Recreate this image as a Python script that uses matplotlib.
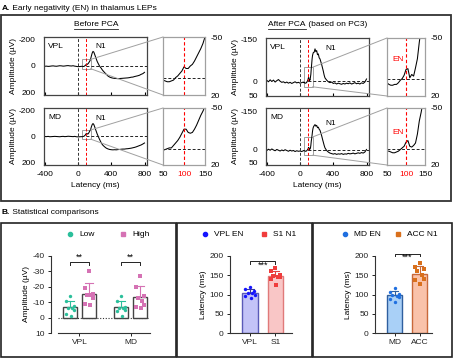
import numpy as np
import matplotlib.pyplot as plt
from matplotlib.patches import Rectangle, ConnectionPatch

plt.rcParams['font.family'] = ['Liberation Sans', 'DejaVu Sans']
plt.rcParams['font.size'] = 6
plt.rcParams['axes.unicode_minus'] = False

W, H = 453, 359

# ---- panel A data: LEP waveforms (uV) ----
lat = np.concatenate([np.arange(-400, 41, 20), np.arange(45, 161, 5),
                      np.arange(170, 301, 10), np.arange(320, 801, 20)])

vpl_before = [2, 1, 3, 2, 0, -1, 1, 2, 0, -2, -1, 1, 0, -2, -3, -1, 0, -2, 1, 3, 5, 4, 3,
              2, 2, 3, 4, 4, 3, 2, -1, -3, -6, -9, -14, -12, -12, -15, -17, -21, -26, -31, -36, -42, -50, -62, -75,
              -98, -111, -105, -88, -70, -52, -35, -22, -10, 2, 10, 18, 28, 36,
              50, 63, 76, 84, 89, 92, 94, 95, 96, 95, 94, 93, 92, 91, 90, 88, 85, 84, 80, 77, 74, 70, 63, 58, 48]
md_before = [0, 1, -1, 2, 1, 0, -1, 0, 1, 2, 0, -1, 1, 0, -2, -1, 0, 1, -1, 2, 3, 2, 1,
             1, 2, 1, 0, -1, -1, -4, -7, -10, -14, -19, -24, -24, -20, -19, -20, -24, -29, -35, -41, -46, -52, -62, -74,
             -92, -100, -92, -75, -56, -38, -20, -5, 10, 24, 37, 50, 60, 68,
             80, 90, 96, 100, 102, 103, 102, 103, 101, 100, 98, 97, 97, 95, 94, 92, 90, 87, 84, 80, 75, 70, 65, 58, 50]
vpl_after = [-3, 2, -5, 1, -4, 3, -2, -6, 0, 4, 2, 6, 3, 7, 4, 8, 5, 2, 6, 4, 7, 5, 3,
             5, 4, 6, 7, 7, 6, 6, 4, 1, -1, -5, -12, -13, -2, -6, -4, -14, -25, -45, -62, -80, -92, -98, -103,
             -104, -116, -106, -110, -95, -98, -84, -80, -70, -60, -48, -36, -22, -12,
             -4, 2, 5, 3, 8, 6, 10, 7, 9, 11, 8, 10, 7, 9, 6, 10, 8, 5, 9, 7, 10, 6, 8, 3, -8]
md_after = [2, -3, 1, -4, 0, 3, -2, 1, 4, 0, 3, -1, 2, 5, 1, 4, 2, 6, 3, 5, 4, 6, 3,
            2, 3, 3, 4, 5, 5, 4, 3, 1, -1, -3, -8, -10, -3, -2, -4, -7, -18, -34, -45, -58, -72, -82, -88,
            -94, -98, -92, -95, -86, -88, -80, -76, -66, -55, -42, -30, -18, -8,
            2, 8, 12, 14, 16, 14, 17, 15, 16, 14, 17, 15, 16, 13, 15, 14, 12, 15, 13, 11, 13, 10, 12, 8, -2]

# ---- panel B data ----
groups_amp = ['VPL', 'MD']
low_vpl = [-14, -11, -7.5, -6.5, -6, -5, -2.5, -1]
high_vpl = [-30, -19, -15.5, -15, -14.5, -12.5, -9, -8.5]
low_md = [-14, -11, -7, -6.5, -6, -5, -4, -1]
high_md = [-27, -20, -14, -12.5, -11, -8, -7, -6.5]

vpl_en = [120, 115, 110, 105, 103, 100, 95, 90]
s1_n1 = [168, 160, 150, 148, 146, 145, 140, 125]
md_en = [118, 106, 102, 98, 95, 93, 88, 80]
acc_n1 = [182, 172, 165, 160, 150, 140, 138, 128]

fig = plt.figure(figsize=(W / 100, H / 100), dpi=100)

ov = fig.add_axes([0, 0, 1, 1])
ov.set_xlim(0, W)
ov.set_ylim(H, 0)
ov.axis('off')


def px_axes(l, t, w, h):
    return fig.add_axes([l / W, 1 - (t + h) / H, w / W, h / H])


def text_after(t, s, **kw):
    fig.canvas.draw()
    bb = t.get_window_extent()
    x = ov.transData.inverted().transform((bb.x1, bb.y0))[0]
    return ov.text(x, t.get_position()[1], s, va=t.get_verticalalignment(), **kw)


def underline(t):
    fig.canvas.draw()
    bb = t.get_window_extent()
    inv = ov.transData.inverted()
    x0, y0 = inv.transform((bb.x0, bb.y0))
    x1, _ = inv.transform((bb.x1, bb.y0))
    ov.plot([x0, x1], [y0 + 0.3, y0 + 0.3], color='#222222', lw=0.6)


# frames
ov.add_patch(Rectangle((1, 15), 450, 186, fc='none', ec='#333333', lw=1.3))
ov.add_patch(Rectangle((1, 222.5), 175, 134, fc='none', ec='#222222', lw=1.2))
ov.add_patch(Rectangle((177, 222.5), 135, 134, fc='none', ec='#222222', lw=1.2))
ov.add_patch(Rectangle((313, 222.5), 138.5, 134, fc='none', ec='#222222', lw=1.2))

ta = ov.text(2, 8, 'A.', weight='bold', va='center')
text_after(ta, ' Early negativity (EN) in thalamus LEPs')
tb = ov.text(2, 212, 'B.', weight='bold', va='center')
text_after(tb, ' Statistical comparisons')

t1 = ov.text(96, 25, 'Before PCA', ha='center', va='center')
underline(t1)
t2 = ov.text(268, 25, 'After PCA', ha='left', va='center')
underline(t2)
text_after(t2, ' (based on PC3)')

GRAY = '#a0a0a0'
DASH = (0, (3, 2))


def wave(box, zbox, y, ylim, yticks, name, n1xy, en_xy, bottom):
    ax = px_axes(*box)
    ax.plot(lat, y, color='black', lw=0.75)
    ax.axvline(0, color='#333333', ls=DASH, lw=0.7)
    ax.axvline(100, color='red', ls=DASH, lw=0.7)
    ax.plot([100, 830], [0, 0], color='#222222', ls=DASH, lw=0.7)
    ax.add_patch(Rectangle((50, -50), 100, 70, fc='none', ec=GRAY, lw=0.7))
    ax.set_xlim(-410, 830)
    ax.set_ylim(*ylim)
    ax.set_yticks(yticks)
    ax.set_xticks([-400, 0, 400, 800])
    ax.tick_params(axis='x', direction='in', length=2, pad=4, labelbottom=bottom)
    ax.tick_params(axis='y', length=0, pad=6)
    for s in ax.spines.values():
        s.set_color('#444444')
        s.set_linewidth(0.9)
    ax.text(0.04, 0.9, name, transform=ax.transAxes, va='top')
    ax.text(*n1xy, 'N1')
    ax.set_ylabel('Amplitude (\u00b5V)', labelpad=1)
    if bottom:
        ax.set_xlabel('Latency (ms)', labelpad=3)

    az = px_axes(*zbox)
    az.plot(lat, y, color='black', lw=0.75)
    az.axvline(100, color='red', ls=DASH, lw=0.8)
    az.axhline(0, color='#222222', ls=DASH, lw=0.7)
    az.set_xlim(50, 150)
    az.set_ylim(20, -50)
    az.yaxis.tick_right()
    az.set_yticks([-50, 20])
    az.set_xticks([50, 100, 150])
    az.tick_params(length=0, pad=4, labelbottom=bottom)
    if bottom:
        az.get_xticklabels()[1].set_color('red')
    for s in az.spines.values():
        s.set_color(GRAY)
        s.set_linewidth(0.9)
    if en_xy is not None:
        az.text(*en_xy, 'EN', color='red', ha='center', va='center')

    for ya, yb in [(-50, 1), (20, 0)]:
        con = ConnectionPatch(xyA=(150, ya), coordsA=ax.transData,
                              xyB=(0, yb), coordsB=az.transAxes,
                              color=GRAY, lw=0.7)
        fig.add_artist(con)
    return ax


wave((44, 37, 103, 58), (163, 37, 42, 58), vpl_before, (220, -220), [-200, 0, 200],
     'VPL', (210, -135), None, False)
wave((44, 108, 103, 57), (163, 108, 42, 57), md_before, (220, -220), [-200, 0, 200],
     'MD', (210, -125), None, True)
wave((266, 38, 103, 58), (387, 38, 38, 58), vpl_after, (53, -155), [-150, 0, 50],
     'VPL', (300, -112), (78, -24), False)
wave((266, 108, 103, 57), (387, 108, 38, 57), md_after, (58, -162), [-150, 0, 50],
     'MD', (300, -95), (78, -20), True)

# ---- panel B ----
jit = [0.0, -0.28, 0.28, -0.14, 0.14, 0.3, -0.3, 0.05]
LOWC, HIGHC = '#2bbf9b', '#d572b4'


def style_b(ax):
    for s in ['top', 'right']:
        ax.spines[s].set_visible(False)
    for s in ['left', 'bottom']:
        ax.spines[s].set_color('#333333')
        ax.spines[s].set_linewidth(0.8)
    ax.tick_params(length=2.5, width=0.7, pad=2, colors='#222222')
    ax.patch.set_alpha(0)


def bar_pts(ax, x, vals, w, fc, ec, pc, marker, ecol):
    m = np.mean(vals)
    sd = np.std(vals, ddof=1)
    ax.bar(x, m, width=w, color=fc, edgecolor=ec, lw=1.0, zorder=2)
    top = m - sd if m < 0 else m + sd
    ax.plot([x, x], [m, top], color=ecol, lw=0.8, zorder=3)
    ax.plot([x - w * 0.25, x + w * 0.25], [top, top], color=ecol, lw=0.8, zorder=3)
    ax.scatter(x + np.array(jit) * w, vals, s=6, color=pc, marker=marker, zorder=4, lw=0)


def bracket(ax, x0, x1, y, dy, stars):
    ax.plot([x0, x0, x1, x1], [y + dy, y, y, y + dy], color='#222222', lw=0.7, clip_on=False)
    ax.text((x0 + x1) / 2, y - dy * 0.3, stars, ha='center', va='bottom' if dy > 0 else 'top',
            fontsize=6.5)


ax1 = px_axes(58, 256, 92, 77)
style_b(ax1)
ax1.spines['left'].set_position(('outward', 5))
ax1.axhline(0, color='#333333', ls=(0, (1, 1.5)), lw=0.8, zorder=1)
bar_pts(ax1, -0.186, low_vpl, 0.28, 'white', '#444444', LOWC, 'o', LOWC)
bar_pts(ax1, 0.186, high_vpl, 0.28, 'white', '#444444', HIGHC, 's', HIGHC)
bar_pts(ax1, 1 - 0.186, low_md, 0.28, 'white', '#444444', LOWC, 'o', LOWC)
bar_pts(ax1, 1 + 0.186, high_md, 0.28, 'white', '#444444', HIGHC, 's', HIGHC)
ax1.set_xlim(-0.42, 1.38)
ax1.set_ylim(10, -40)
ax1.set_yticks([-40, -30, -20, -10, 0, 10])
ax1.set_xticks([0, 1])
ax1.set_xticklabels(groups_amp)
ax1.set_ylabel('Amplitude (\u00b5V)', labelpad=2)
bracket(ax1, -0.186, 0.186, -36, 2, '**')
bracket(ax1, 1 - 0.186, 1 + 0.186, -36, 2, '**')

ax2 = px_axes(230, 256, 62, 77)
style_b(ax2)
bar_pts(ax2, 0, vpl_en, 0.62, '#c3c3f7', '#5a5ab8', '#1414ff', 'o', '#3a3a9a')
bar_pts(ax2, 1, s1_n1, 0.62, '#f9c6c6', '#e07a7a', '#f03c3c', 's', '#e04040')
ax2.set_xlim(-0.78, 1.65)
ax2.set_ylim(0, 200)
ax2.set_yticks([0, 50, 100, 150, 200])
ax2.set_xticks([0, 1])
ax2.set_xticklabels(['VPL', 'S1'])
ax2.set_ylabel('Latency (ms)', labelpad=2)
bracket(ax2, 0, 1, 186, -7, '***')

ax3 = px_axes(375, 256, 57, 77)
style_b(ax3)
bar_pts(ax3, 0, md_en, 0.6, '#a9d0f7', '#2f5f9f', '#1f6fe0', 'o', '#2f5f9f')
bar_pts(ax3, 1, acc_n1, 0.6, '#f9c2aa', '#c8683a', '#d9701c', 's', '#c8683a')
ax3.set_xlim(-0.78, 1.5)
ax3.set_ylim(0, 200)
ax3.set_yticks([0, 50, 100, 150, 200])
ax3.set_xticks([0, 1])
ax3.set_xticklabels(['MD', 'ACC'])
ax3.set_ylabel('Latency (ms)', labelpad=2)
bracket(ax3, 0, 1, 206, -7, '***')

# legends
for x, y, m, c, lab in [(70, 234, 'o', LOWC, 'Low'), (123, 234, 's', HIGHC, 'High'),
                        (205, 234, 'o', '#1414ff', 'VPL EN'), (264, 234, 's', '#f03c3c', 'S1 N1'),
                        (345, 234, 'o', '#1f6fe0', 'MD EN'), (398, 234, 's', '#d9701c', 'ACC N1')]:
    ov.plot([x], [y], marker=m, color=c, ms=3, lw=0)
    ov.text(x + 9, y, lab, va='center')

fig.savefig('out.png', dpi=100)
